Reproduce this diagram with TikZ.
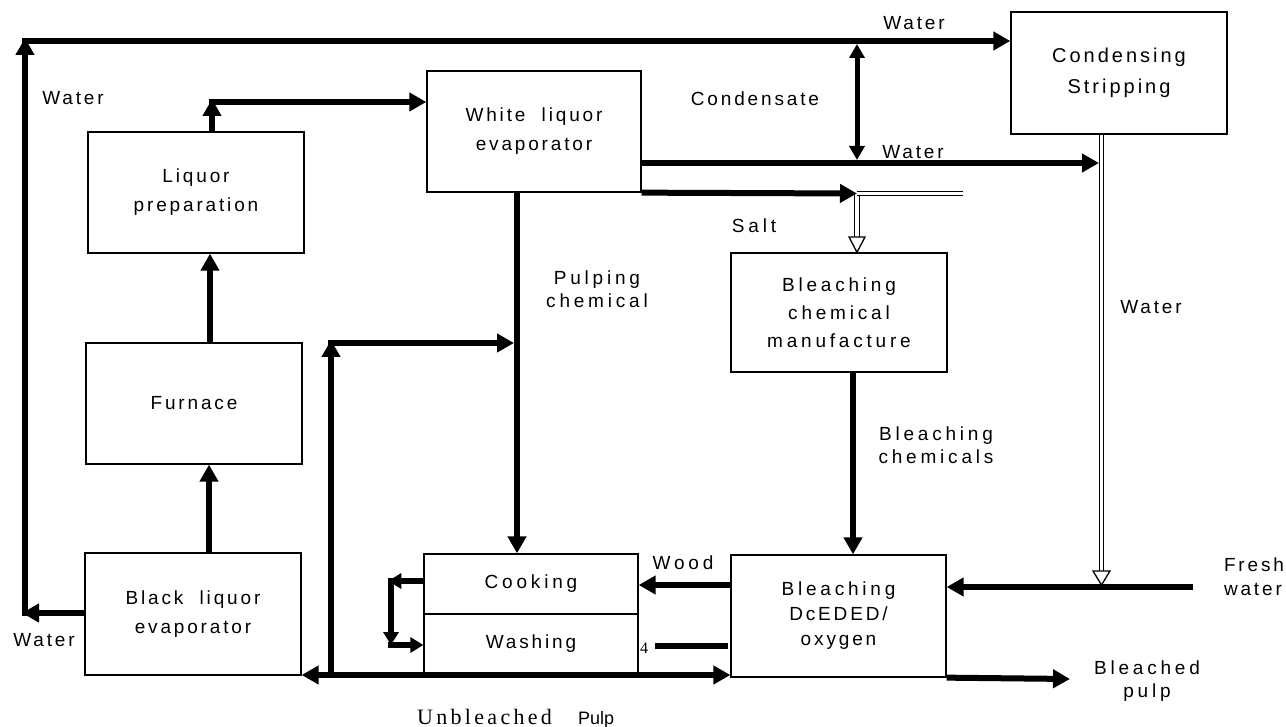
\documentclass[tikz,border=0pt]{standalone}
\usepackage{fontspec}
\setmainfont{Liberation Sans}
\newfontfamily\lblA[LetterSpace=15]{Liberation Sans}
\newfontfamily\lblB[LetterSpace=20]{Liberation Sans}
\newfontfamily\ubfont[LetterSpace=15]{Liberation Serif}
\usetikzlibrary{arrows.meta,calc}
\tikzset{
  box/.style={draw, line width=1.3pt, minimum width=216pt, minimum height=121pt, inner sep=0pt, align=center, font=\lblA\fontsize{19}{29}\selectfont},
  boxB/.style={box, font=\lblB\fontsize{19}{28}\selectfont},
  tA/.style={inner sep=0pt, align=center, font=\lblA\fontsize{19}{24}\selectfont},
  tB/.style={inner sep=0pt, align=center, font=\lblB\fontsize{19}{23}\selectfont},
  flow/.style={line width=6pt, -{Triangle[length=17pt,width=18pt]}},
  bar/.style={line width=6pt},
  flowS/.style={line width=5.5pt, -{Triangle[length=13pt,width=15pt]}},
  pipe/.style={line width=1.3pt, double distance=3.2pt, draw=black, double=white},
  openhead/.style={line width=1.3pt, fill=white, line join=miter},
}
\begin{document}
\begin{tikzpicture}[x=1pt,y=-1pt]
\useasboundingbox (0,0) rectangle (1286,727);

% boxes
\node[box] (lp) at (196,192.5) {Liquor\\preparation};
\node[box] (fur) at (194,403.5) {Furnace};
\node[box, minimum height=122pt] (ble) at (193,614) {Black\ \ liquor\\evaporator};
\node[box, minimum width=214pt] (wle) at (534,131.5) {White\ \ liquor\\evaporator};
\node[box, minimum height=122pt, font=\lblA\fontsize{20}{31}\selectfont] (cs) at (1119,73) {Condensing\\Stripping};
\node[boxB, minimum height=119pt] (bcm) at (839,312.5) {Bleaching\\chemical\\manufacture};
\node[boxB, minimum width=214pt, minimum height=60pt] (cook) at (531,584) {Cooking};
\node[box, minimum width=214pt, minimum height=59pt] (wash) at (531,643.5) {Washing};
\node[boxB, minimum width=215pt, minimum height=122pt, font=\lblB\fontsize{19}{25}\selectfont] (bl) at (838.5,616) {Bleaching\\{\lblA DcEDED/}\\{\lblA oxygen}};

% labels
\node[tA] (wtl) at (73,98) {Water};
\node[tA] (wbl) at (44,640) {Water};
\node[tA] (wtop) at (914,23) {Water};
\node[tA] (wmid) at (913,152) {Water};
\node[tA] (cond) at (755,99) {Condensate};
\node[tB] (salt) at (754,226) {Salt};
\node[tB] (pulpc) at (597,289) {Pulping\\chemical};
\node[tB] (bchem) at (936,445) {Bleaching\\chemicals};
\node[tB] (wood) at (683,563) {Wood};
\node[tA] (wr) at (1151,307) {Water};
\node[tA, align=left] (fresh) at (1254,577) {Fresh\\water};
\node[tB] (bleached) at (1147,681) {Bleached\\pulp};
\node[inner sep=0pt, font=\ubfont\fontsize{16}{18}\selectfont] (four) at (644,648) {4};
\node[inner sep=0pt, anchor=base west, font=\ubfont\fontsize{22}{24}\selectfont] (unb) at (417,724) {Unbleached};
\node[inner sep=0pt, anchor=base west, font=\fontsize{18}{20}\selectfont] (pulp) at (578,724) {Pulp};

% coordinates
\coordinate (wlb) at (25,613);
\coordinate (wlt) at (25,41);
\coordinate (lpo) at (212,102);
\coordinate (c1) at (210,0);
\coordinate (c2) at (209,0);
\coordinate (w2) at (1099,163);
\coordinate (cd1) at (857,41);
\coordinate (cd2) at (857,163);
\coordinate (s1) at (857,193.5);
\coordinate (s2) at (963,193.5);
\coordinate (s3) at (857,237);
\coordinate (c6) at (1101.5,0);
\coordinate (p1) at (1101.5,571);
\coordinate (fw) at (1193,587);
\coordinate (bp) at (1070,679);
\coordinate (c3) at (853,0);
\coordinate (wd) at (0,585);
\coordinate (b4) at (655,646);
\coordinate (c5) at (517,0);
\coordinate (jn) at (331,675);
\coordinate (jt) at (331,343);
\coordinate (jr) at (514,343);
\coordinate (lp1) at (391,581);
\coordinate (lp2) at (391,645);

% water loop top-left
\draw[flow] (ble.west |- wlb) -- ([xshift=-3pt]wlb);
\draw[flow] ([yshift=-3pt]wlb) -- ([yshift=3pt]wlt);
\draw[flow] ([xshift=-3pt]wlt) -- (cs.west |- wlt);

% liquor prep to white liquor evaporator
\draw[flow] (lp.north -| lpo) -- ([yshift=3pt]lpo);
\draw[flow] ([xshift=-3pt]lpo) -- (wle.west |- lpo);

% furnace chain
\draw[flow] (fur.north -| c1) -- (lp.south -| c1);
\draw[flow] (ble.north -| c2) -- (fur.south -| c2);

% white liquor evaporator water
\draw[flow] (wle.east |- w2) -- (w2);

% condensate
\draw[line width=5pt, {Triangle[length=14pt,width=15pt]}-{Triangle[length=14pt,width=15pt]}] ([yshift=-3pt]cd1) -- ([yshift=3pt]cd2);

% salt
\draw[flow] (wle.south east) -- (s1);
\draw[pipe] ([yshift=-2pt]s1) -- (s3);
\draw[pipe] (s1) -- (s2);
\draw[openhead] ($(s3)+(-8,0)$) -- ($(s3)+(8,0)$) -- (bcm.north -| s3) -- cycle;

% fresh water and condensing pipe
\draw[flow] (fw) -- (bl.east |- fw);
\draw[pipe] (cs.south -| c6) -- (p1);
\draw[openhead] ($(p1)+(-8.5,0)$) -- ($(p1)+(8.5,0)$) -- ($(p1)+(0,14)$) -- cycle;

% bleached pulp
\draw[flow] (bl.south east) -- (bp);

% bleaching chemicals
\draw[flow] (bcm.south -| c3) -- (bl.north -| c3);

% wood
\draw[flow] (bl.west |- wd) -- (cook.east |- wd);

% bar after 4
\draw[bar] (b4) -- ([xshift=-2pt]bl.west |- b4);

% pulping chemical
\draw[flow] (wle.south -| c5) -- (cook.north -| c5);

% bottom line and return loop
\draw[flow] ([xshift=3pt]jn) -- (ble.east |- jn);
\draw[flow] ([xshift=-3pt]jn) -- (bl.west |- jn);
\draw[flow] ([yshift=-3pt]jn) -- ([yshift=3pt]jt);
\draw[flow] ([xshift=-3pt]jt) -- (jr);

% cooking/washing loop
\draw[flowS] (cook.west |- lp1) -- ([xshift=-2.75pt]lp1);
\draw[flowS] ([yshift=2.75pt]lp1) -- (lp2);
\draw[flowS] ([xshift=-2.75pt]lp2) -- (wash.west |- lp2);
\end{tikzpicture}
\end{document}
